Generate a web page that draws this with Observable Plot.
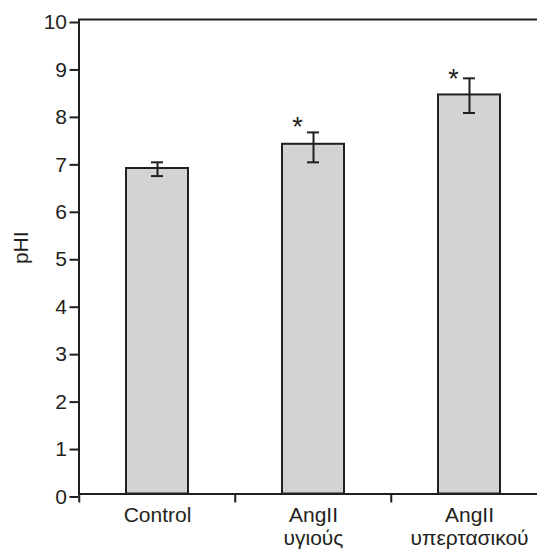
<!DOCTYPE html>
<html>
<head>
<meta charset="utf-8">
<script src="https://cdn.jsdelivr.net/npm/d3@7"></script>
<script src="https://cdn.jsdelivr.net/npm/@observablehq/plot@0.6"></script>
<style>
  html, body { margin: 0; padding: 0; background: #fff; }
  #chart svg { display: block; }
</style>
</head>
<body>
<div id="chart"></div>
<script>
const categories = ["Control", "AngII\nυγιούς", "AngII\nυπερτασικού"];
const values = [6.86, 7.37, 8.41];
const errLow = [6.70, 6.99, 8.03];
const errHigh = [6.99, 7.62, 8.76];
const starY = [null, 7.88, 8.89];
const yTicks = [0, 1, 2, 3, 4, 5, 6, 7, 8, 9, 10];

const data = categories.map((c, i) => ({
  cat: c, value: values[i], lo: errLow[i], hi: errHigh[i], star: starY[i]
}));

const ink = "#231f20";
const xRange = [78.5, 548];
const step = (xRange[1] - xRange[0]) / categories.length;

const chart = Plot.plot({
  width: 537,
  height: 550,
  marginLeft: 78.5,
  marginRight: -3,
  marginTop: 19,
  marginBottom: 56.5,
  style: { fontFamily: "'Liberation Sans', Arial, sans-serif", fontSize: "21px", color: ink, background: "#fff" },
  x: { domain: categories, range: xRange, paddingInner: 0.6, paddingOuter: 0.3, align: 0.5 },
  y: { domain: [0, 10] },
  marks: [
    Plot.barY(data, { x: "cat", y: "value", fill: "#d1d3d4", stroke: ink, strokeWidth: 2 }),
    Plot.ruleX(data, { x: "cat", y1: "lo", y2: "hi", stroke: ink, strokeWidth: 2 }),
    Plot.tickY(data, { x: "cat", y: "lo", stroke: ink, strokeWidth: 2, inset: 25 }),
    Plot.tickY(data, { x: "cat", y: "hi", stroke: ink, strokeWidth: 2, inset: 25 }),
    Plot.text(data.filter(d => d.star != null), { x: "cat", y: "star", text: () => "*", fontSize: 27, fill: ink, dx: -16, dy: 7, lineAnchor: "middle" }),
    Plot.frame({ stroke: ink, strokeWidth: 2 }),
    Plot.axisY({ ticks: yTicks, tickSize: 9, tickPadding: 3, strokeWidth: 2, fontSize: 21, dy: 3, label: null, tickFormat: d => String(d) }),
    Plot.axisX({ ticks: categories, tickSize: 9, tickFormat: () => "", dx: -step / 2, strokeWidth: 2, label: null }),
    Plot.axisX({ ticks: categories, tickSize: 0, tickPadding: 11, fontSize: 21, lineHeight: 1.12, label: null }),
    Plot.text(["pHI"], { frameAnchor: "left", text: d => d, rotate: -90, dx: -58, dy: -9, fontSize: 21, fill: ink, textAnchor: "middle", lineAnchor: "middle" })
  ]
});

document.getElementById("chart").appendChild(chart);
</script>
</body>
</html>
